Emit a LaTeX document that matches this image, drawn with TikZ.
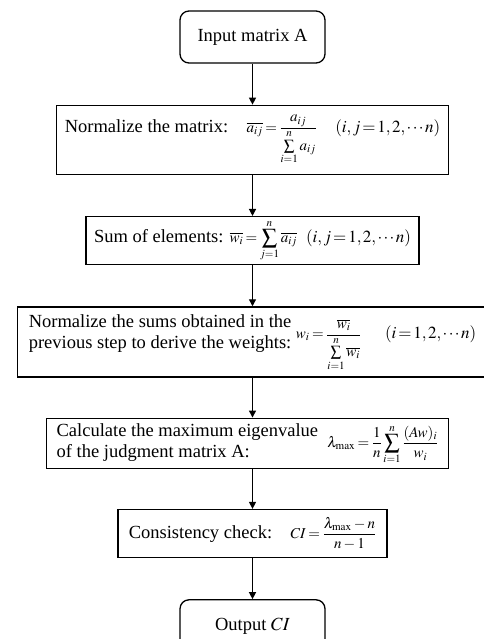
\documentclass[tikz,border=0pt]{standalone}
\usepackage{mathptmx}
\usepackage{fontspec}
\setmainfont{Liberation Serif}
\usetikzlibrary{positioning,arrows.meta}
% formulas are set a little smaller than the text
\newcommand{\fml}[1]{{\fontsize{15}{17}\selectfont\thickmuskip=3mu$\displaystyle #1$}}
\newcommand{\rng}[1]{{\fontsize{17}{19}\selectfont\thickmuskip=2mu\thinmuskip=1.5mu$#1$}}

\begin{document}
\begin{tikzpicture}[x=1pt, y=-1pt, >={Triangle[length=7pt,width=7pt]}, node distance=41pt,
  font=\fontsize{18.5}{21}\selectfont,
  box/.style={draw, line width=1.3pt, inner xsep=6pt, inner ysep=0pt, align=left},
  term/.style={box, rounded corners=9pt, minimum width=145pt, minimum height=52pt},
  flow/.style={->, line width=1.3pt}]
  \useasboundingbox (0,0) rectangle (483,639);
  \node (inp) [term] at (252.5,37) {Input matrix A};
  \node (norm) [box, below=of inp, minimum width=392pt, minimum height=69pt]
    {Normalize the matrix:\quad \fml{\overline{a_{ij}}=\frac{a_{ij}}{\sum\limits_{i=1}^{n}a_{ij}}}\quad \rng{(i,j=1,2,\cdots n)}};
  \node (sum) [box, below=of norm, minimum width=333pt, minimum height=48pt]
    {Sum of elements: \fml{\overline{w_i}=\sum_{j=1}^{n}\overline{a_{ij}}}\enspace \rng{(i,j=1,2,\cdots n)}};
  \node (wts) [box, below=of sum, minimum width=470pt, minimum height=70pt]
    {\begin{tabular}{@{}l@{}}Normalize the sums obtained in the\\ previous step to derive the weights:\end{tabular}\
     \fml{w_i=\frac{\overline{w_i}}{\sum\limits_{i=1}^{n}\overline{w_i}}}\hspace{24pt}\rng{(i=1,2,\cdots n)}};
  \node (eig) [box, below=40pt of wts, xshift=-5pt, minimum width=402pt, minimum height=50pt]
    {\begin{tabular}{@{}l@{}}Calculate the maximum eigenvalue\\ of the judgment matrix A:\end{tabular}\enspace
     \fml{\lambda_{\mathrm{max}}=\frac{1}{n}\sum_{i=1}^{n}\frac{(Aw)_i}{w_i}}};
  \node (cons) [box, below=40pt of eig.south -| wts.south, anchor=north, minimum width=269pt, minimum height=48pt]
    {Consistency check:\quad \fml{CI=\frac{\lambda_{\mathrm{max}}-n}{n-1}}};
  \node (out) [term, below=of cons] {Output $CI$};

  \draw[flow] (inp) -- (norm);
  \draw[flow] (norm) -- (sum);
  \draw[flow] (sum) -- (wts);
  \draw[flow] (wts.south) -- (wts.south |- eig.north);
  \draw[flow] (cons.north |- eig.south) -- (cons);
  \draw[flow] (cons) -- (out);
\end{tikzpicture}
\end{document}
